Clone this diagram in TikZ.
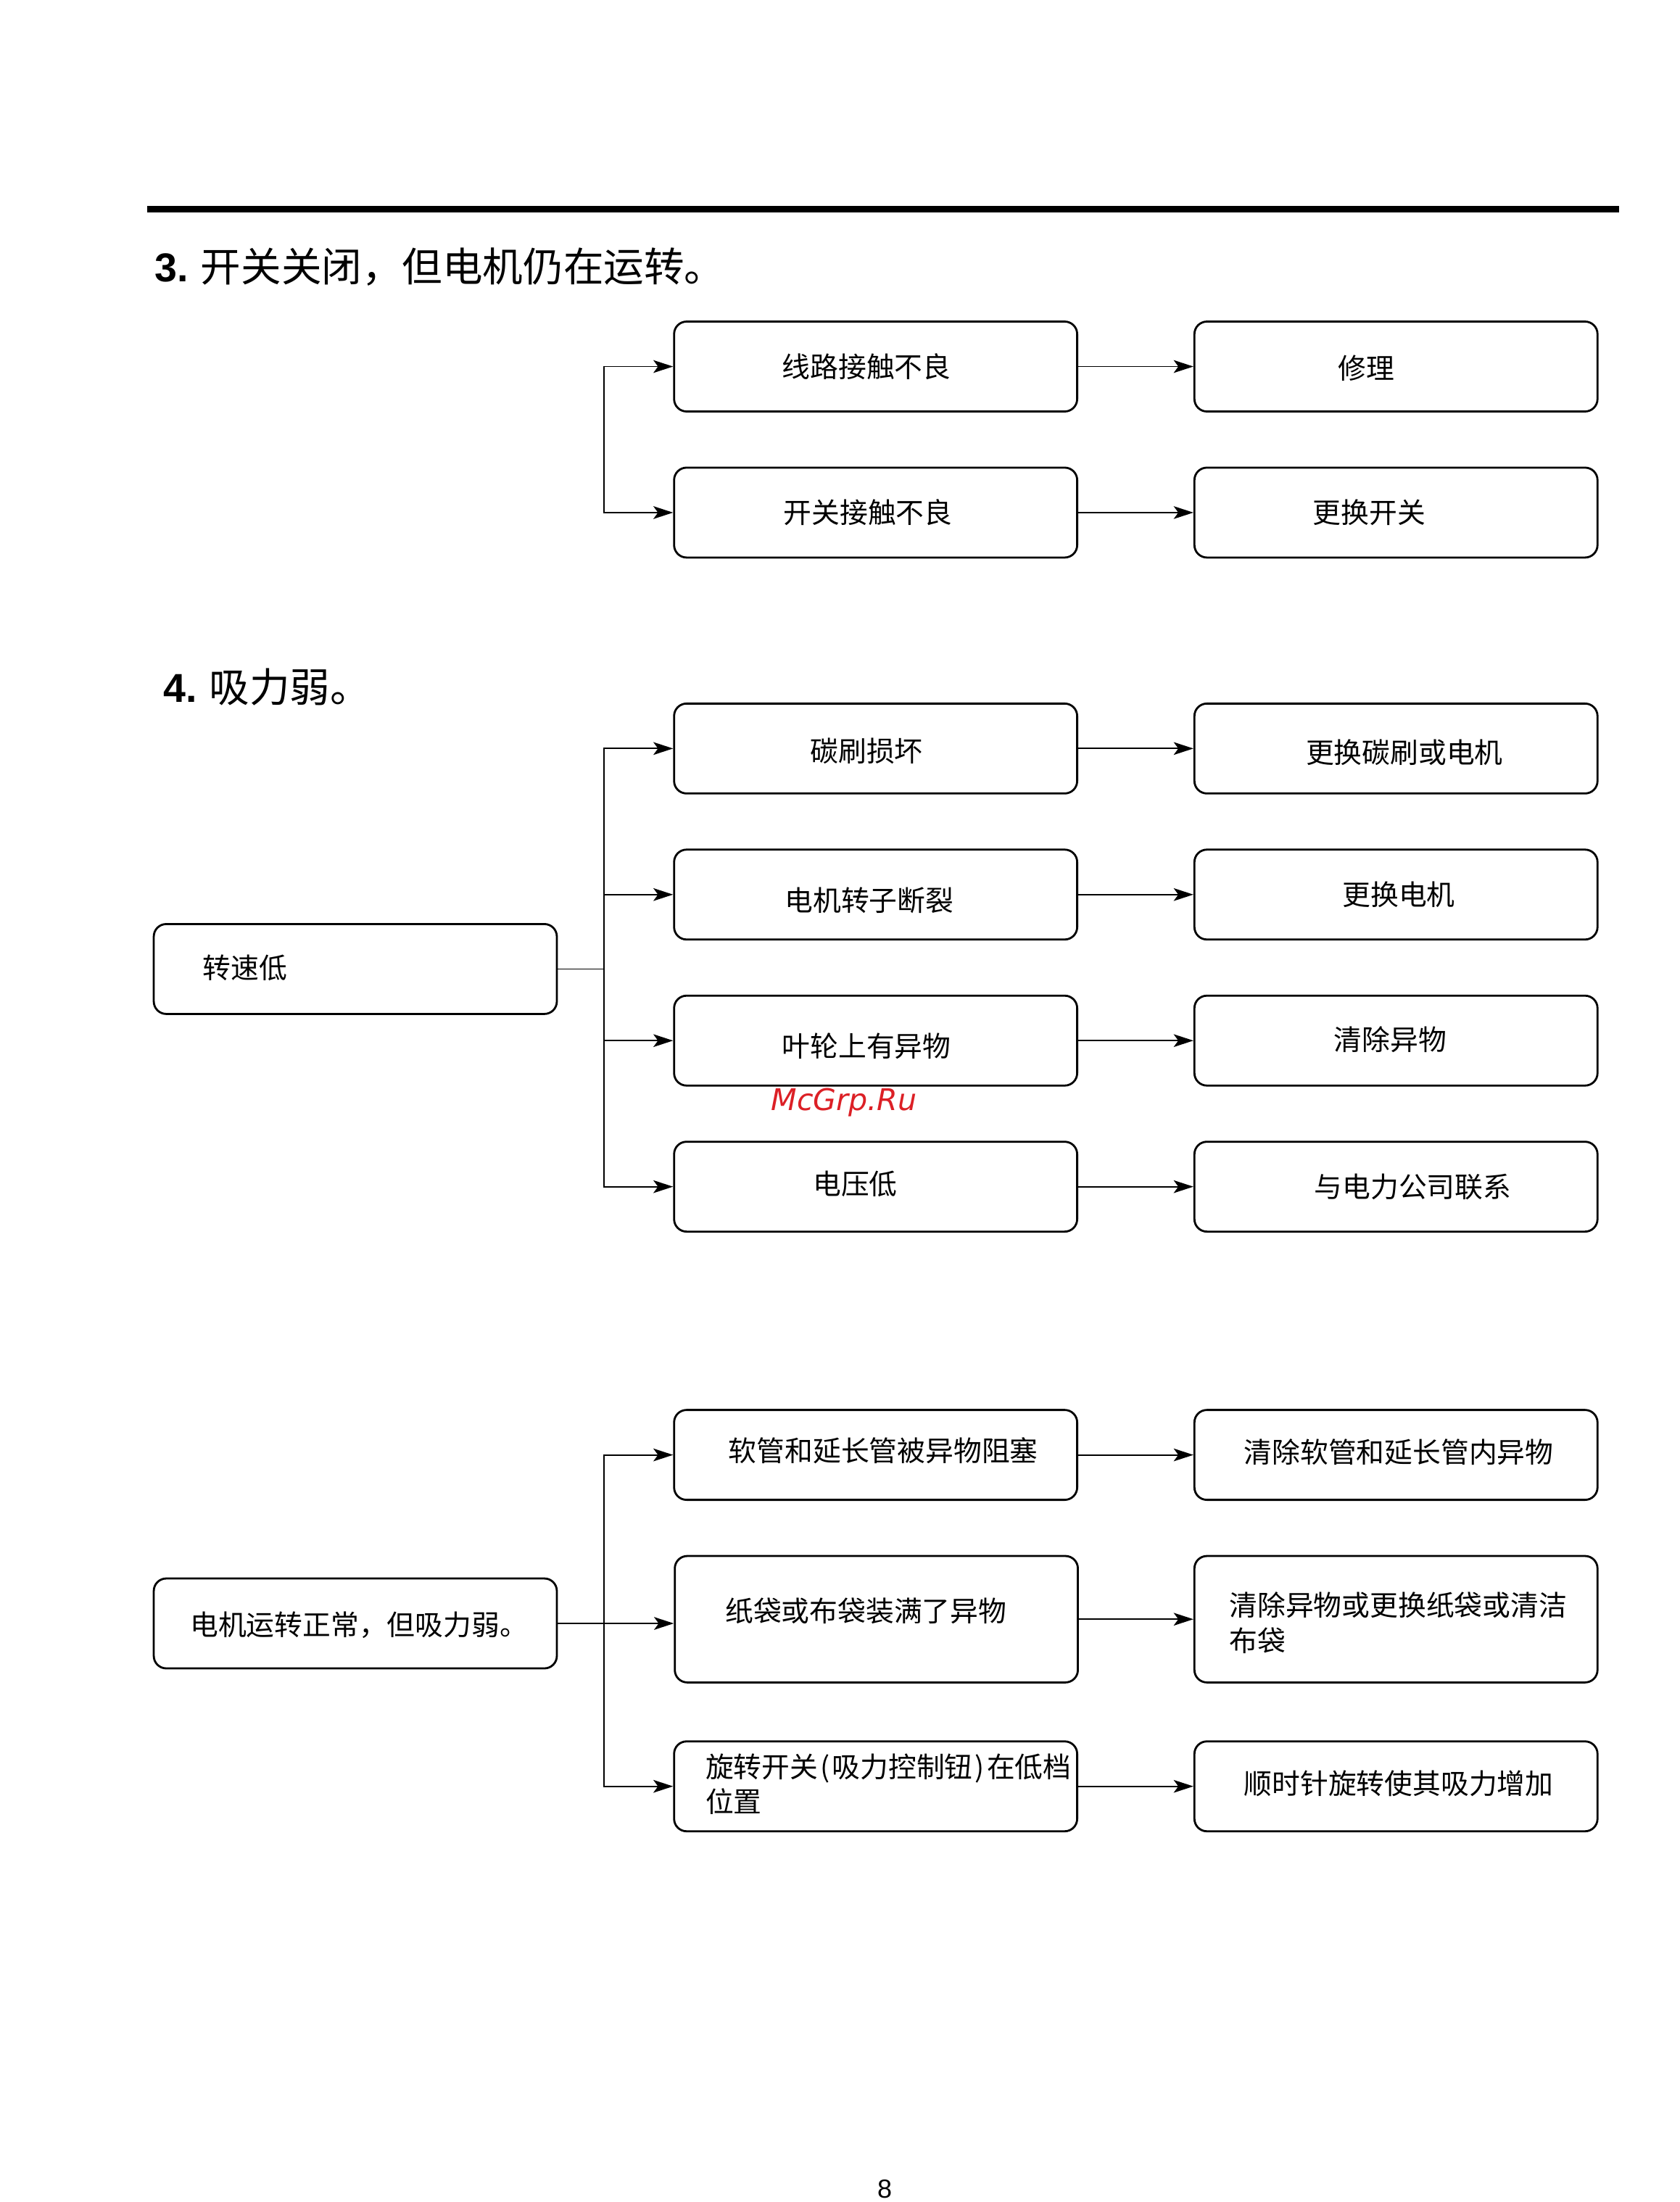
\documentclass[tikz,border=0pt]{standalone}
\usepackage{fontspec}
\setmainfont{Noto Sans CJK SC}
\newfontfamily\latinb{Liberation Sans}
\newfontfamily\wmfont{DejaVu Sans}
\usetikzlibrary{arrows.meta}
\newcommand\hwp[1]{\makebox[0.5em][c]{#1}}
\begin{document}
\begin{tikzpicture}[x=0.4843pt,y=-0.4843pt,
  box/.style={draw, line width=0.7pt, rounded corners=4.3pt, minimum width=139pt, minimum height=31pt, inner sep=0pt},
  tallbox/.style={box, minimum height=43.6pt},
  conn/.style={line width=0.45pt},
  arr/.style={conn, -{Stealth[length=6.8pt, width=4.4pt, inset=1.6pt]}},
  txt/.style={font=\fontsize{9.7pt}{12.1pt}\selectfont, inner sep=0pt},
  ltxt/.style={txt, anchor=west, align=left},
  ttl/.style={font=\fontsize{13.9pt}{16pt}\selectfont, anchor=west, inner sep=0pt}
]
\useasboundingbox (0,0) rectangle (1196,1568);

% top rule
\draw[line width=2.4pt] (105,149) -- (1153,149);

% ---------- section 3 ----------
\node[ttl] (t3) at (110,190) {{\latinb\bfseries 3.} 开关关闭，但电机仍在运转。};

\node[box] (a1) at (623.5,261) {};
\node[box] (a2) at (623.5,365) {};
\node[box] (r1) at (994,261) {};
\node[box] (r2) at (994,365) {};
\node[txt] (ta1) at (617,261) {线路接触不良};
\node[txt] (ta2) at (618,365) {开关接触不良};
\node[txt] (tr1) at (973,262) {修理};
\node[txt] (tr2) at (975,365) {更换开关};

\coordinate (j3) at (430,312);
\draw[arr] (j3) |- (a1.west);
\draw[arr] (j3) |- (a2.west);
\draw[arr] (a1.east) -- (r1.west);
\draw[arr] (a2.east) -- (r2.west);

% ---------- section 4 ----------
\node[ttl] (t4) at (116,489) {{\latinb\bfseries 4.} 吸力弱。};

\node[box] (slow) at (253,690) {};
\node[ltxt] (tslow) at (144,689) {转速低};

\node[box] (b1) at (623.5,533) {};
\node[box] (b2) at (623.5,637) {};
\node[box] (b3) at (623.5,741) {};
\node[box] (b4) at (623.5,845) {};
\node[box] (s1) at (994,533) {};
\node[box] (s2) at (994,637) {};
\node[box] (s3) at (994,741) {};
\node[box] (s4) at (994,845) {};
\node[txt] (tb1) at (617,535) {碳刷损坏};
\node[txt] (tb2) at (619,641) {电机转子断裂};
\node[txt] (tb3) at (617,745) {叶轮上有异物};
\node[txt] (tb4) at (609,843) {电压低};
\node[txt] (ts1) at (1000,536) {更换碳刷或电机};
\node[txt] (ts2) at (996,637) {更换电机};
\node[txt] (ts3) at (990,740) {清除异物};
\node[txt] (ts4) at (1006,845) {与电力公司联系};

\coordinate (j4) at (430,690);
\draw[conn] (slow.east) -- (j4);
\draw[arr] (j4) |- (b1.west);
\draw[arr] (j4) |- (b2.west);
\draw[arr] (j4) |- (b3.west);
\draw[arr] (j4) |- (b4.west);
\draw[arr] (b1.east) -- (s1.west);
\draw[arr] (b2.east) -- (s2.west);
\draw[arr] (b3.east) -- (s3.west);
\draw[arr] (b4.east) -- (s4.west);

% watermark
\node[inner sep=0pt, text={rgb,255:red,220;green,32;blue,38}, font=\wmfont\itshape\fontsize{10.3pt}{12pt}\selectfont] (wm) at (601,785) {McGrp.Ru};

% ---------- section 5 ----------
\node[box] (motor) at (253,1156) {};
\node[ltxt] (tmotor) at (135,1157) {电机运转正常，但吸力弱。};

\node[box] (c1) at (623.5,1036) {};
\node[tallbox] (c2) at (624,1153) {};
\node[box] (c3) at (623.5,1272) {};
\node[box] (d1) at (994,1036) {};
\node[tallbox] (d2) at (994,1153) {};
\node[box] (d3) at (994,1272) {};

\node[txt] (tc1) at (629,1033) {软管和延长管被异物阻塞};
\node[ltxt] (tc2) at (516,1147) {纸袋或布袋装满了异物};
\node[ltxt] (tc3) at (502,1270.5) {旋转开关\hwp{(}吸力控制钮\hwp{)}在低档\\位置};
\node[txt] (td1) at (996,1034) {清除软管和延长管内异物};
\node[ltxt] (td2) at (875,1155.5) {清除异物或更换纸袋或清洁\\布袋};
\node[txt] (td3) at (996,1270) {顺时针旋转使其吸力增加};

\coordinate (j5) at (430,1156);
\draw[arr] (motor.east) -- (motor.east -| c2.west);
\draw[arr] (j5) |- (c1.west);
\draw[arr] (j5) |- (c3.west);
\draw[arr] (c1.east) -- (d1.west);
\draw[arr] (c2.east) -- (d2.west);
\draw[arr] (c3.east) -- (d3.west);

% page number
\node[inner sep=0pt, font=\latinb\fontsize{9pt}{10pt}\selectfont] (pg) at (630,1559) {8};
\end{tikzpicture}
\end{document}
